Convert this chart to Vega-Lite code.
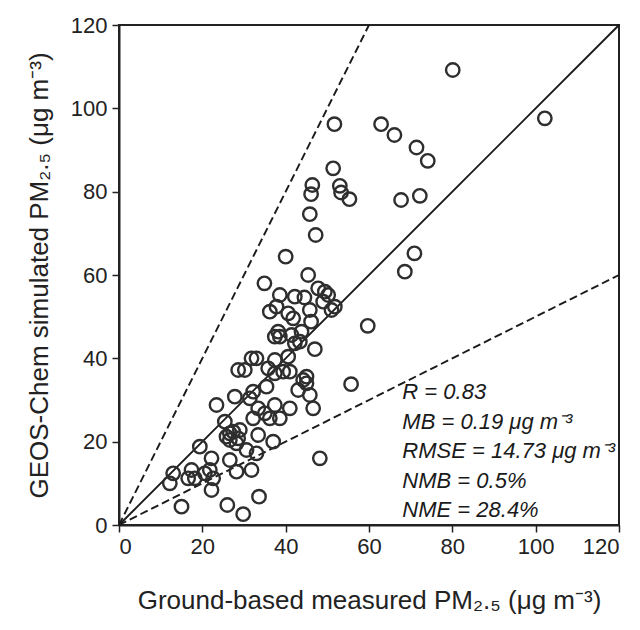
{
  "$schema": "https://vega.github.io/schema/vega-lite/v6.json",
  "width": 500,
  "height": 500,
  "autosize": {"type": "none"},
  "padding": {"left": 119, "top": 25, "right": 21, "bottom": 105},
  "background": "white",
  "config": {
    "view": {"stroke": "#222222", "strokeWidth": 2},
    "font": "Liberation Sans, sans-serif",
    "axis": {
      "grid": false,
      "domainColor": "#222222",
      "domainWidth": 2,
      "tickColor": "#222222",
      "tickWidth": 1.5,
      "tickSize": 7,
      "labelFont": "Liberation Sans, sans-serif",
      "labelFontSize": 22,
      "labelColor": "#222222",
      "titleFont": "Liberation Sans, sans-serif",
      "titleFontSize": 26,
      "titleFontWeight": "normal",
      "titleColor": "#222222"
    }
  },
  "layer": [
    {
      "data": {"values": [{}]},
      "mark": {"type": "rule", "color": "#1a1a1a", "strokeWidth": 1.9},
      "encoding": {
        "x": {"datum": 0, "type": "quantitative", "scale": {"domain": [0, 120]}},
        "y": {"datum": 0, "type": "quantitative", "scale": {"domain": [0, 120]}},
        "x2": {"datum": 120},
        "y2": {"datum": 120}
      }
    },
    {
      "data": {"values": [{}]},
      "mark": {"type": "rule", "color": "#1a1a1a", "strokeWidth": 1.9, "strokeDash": [8, 4]},
      "encoding": {
        "x": {"datum": 0, "type": "quantitative"},
        "y": {"datum": 0, "type": "quantitative"},
        "x2": {"datum": 60},
        "y2": {"datum": 120}
      }
    },
    {
      "data": {"values": [{}]},
      "mark": {"type": "rule", "color": "#1a1a1a", "strokeWidth": 1.9, "strokeDash": [8, 4]},
      "encoding": {
        "x": {"datum": 0, "type": "quantitative"},
        "y": {"datum": 0, "type": "quantitative"},
        "x2": {"datum": 120},
        "y2": {"datum": 60}
      }
    },
    {
      "data": {
        "values": [
          {"measured": 80.1, "simulated": 109.2},
          {"measured": 102.2, "simulated": 97.6},
          {"measured": 51.7, "simulated": 96.2},
          {"measured": 62.9, "simulated": 96.2},
          {"measured": 66.1, "simulated": 93.6},
          {"measured": 71.4, "simulated": 90.6},
          {"measured": 74.1, "simulated": 87.4},
          {"measured": 51.4, "simulated": 85.6},
          {"measured": 46.4, "simulated": 81.6},
          {"measured": 46.1, "simulated": 79.4},
          {"measured": 53.0, "simulated": 81.4},
          {"measured": 53.3, "simulated": 79.8},
          {"measured": 55.3, "simulated": 78.2},
          {"measured": 67.7, "simulated": 78.0},
          {"measured": 72.2, "simulated": 79.0},
          {"measured": 45.8, "simulated": 74.6},
          {"measured": 47.2, "simulated": 69.6},
          {"measured": 70.9, "simulated": 65.2},
          {"measured": 68.6, "simulated": 60.8},
          {"measured": 40.0, "simulated": 64.4},
          {"measured": 45.4, "simulated": 60.0},
          {"measured": 34.9, "simulated": 58.0},
          {"measured": 59.7, "simulated": 47.8},
          {"measured": 55.7, "simulated": 33.8},
          {"measured": 48.2, "simulated": 16.0},
          {"measured": 47.0, "simulated": 42.2},
          {"measured": 47.8, "simulated": 56.8},
          {"measured": 49.4, "simulated": 56.0},
          {"measured": 50.2, "simulated": 55.2},
          {"measured": 49.0, "simulated": 53.6},
          {"measured": 51.8, "simulated": 52.4},
          {"measured": 51.0, "simulated": 51.6},
          {"measured": 38.6, "simulated": 55.2},
          {"measured": 42.2, "simulated": 54.8},
          {"measured": 44.5, "simulated": 54.6},
          {"measured": 36.2, "simulated": 51.2},
          {"measured": 37.8, "simulated": 52.4},
          {"measured": 40.6, "simulated": 50.8},
          {"measured": 41.8, "simulated": 49.6},
          {"measured": 45.8, "simulated": 51.6},
          {"measured": 46.1, "simulated": 48.8},
          {"measured": 43.8, "simulated": 46.4},
          {"measured": 38.2, "simulated": 46.4},
          {"measured": 37.4, "simulated": 45.2},
          {"measured": 38.6, "simulated": 45.2},
          {"measured": 41.4, "simulated": 45.6},
          {"measured": 42.2, "simulated": 43.6},
          {"measured": 43.4, "simulated": 44.0},
          {"measured": 33.0, "simulated": 40.0},
          {"measured": 31.8, "simulated": 40.0},
          {"measured": 37.4, "simulated": 39.6},
          {"measured": 40.6, "simulated": 40.4},
          {"measured": 28.6, "simulated": 37.2},
          {"measured": 30.2, "simulated": 37.2},
          {"measured": 35.8, "simulated": 37.6},
          {"measured": 39.4, "simulated": 36.8},
          {"measured": 41.0, "simulated": 36.8},
          {"measured": 45.0, "simulated": 35.6},
          {"measured": 37.4, "simulated": 36.4},
          {"measured": 44.2, "simulated": 34.8},
          {"measured": 45.0, "simulated": 34.0},
          {"measured": 43.0, "simulated": 32.4},
          {"measured": 45.8, "simulated": 31.2},
          {"measured": 46.6, "simulated": 28.0},
          {"measured": 41.0, "simulated": 28.0},
          {"measured": 37.4, "simulated": 28.8},
          {"measured": 32.2, "simulated": 32.0},
          {"measured": 31.4, "simulated": 30.4},
          {"measured": 27.8, "simulated": 30.8},
          {"measured": 23.4, "simulated": 28.8},
          {"measured": 33.4, "simulated": 28.0},
          {"measured": 35.0, "simulated": 26.8},
          {"measured": 36.2, "simulated": 25.6},
          {"measured": 38.6, "simulated": 25.6},
          {"measured": 32.2, "simulated": 25.6},
          {"measured": 25.4, "simulated": 24.8},
          {"measured": 27.4, "simulated": 22.4},
          {"measured": 29.0, "simulated": 22.8},
          {"measured": 33.4, "simulated": 21.6},
          {"measured": 26.6, "simulated": 20.4},
          {"measured": 28.6, "simulated": 20.8},
          {"measured": 37.0, "simulated": 20.0},
          {"measured": 35.4, "simulated": 33.2},
          {"measured": 19.4, "simulated": 18.8},
          {"measured": 22.2, "simulated": 16.0},
          {"measured": 26.6, "simulated": 15.6},
          {"measured": 28.2, "simulated": 12.8},
          {"measured": 31.8, "simulated": 13.2},
          {"measured": 33.0, "simulated": 17.2},
          {"measured": 13.0, "simulated": 12.4},
          {"measured": 12.2, "simulated": 10.0},
          {"measured": 17.4, "simulated": 13.2},
          {"measured": 16.6, "simulated": 11.2},
          {"measured": 18.2, "simulated": 11.2},
          {"measured": 21.8, "simulated": 13.2},
          {"measured": 22.6, "simulated": 11.2},
          {"measured": 22.2, "simulated": 8.4},
          {"measured": 15.0, "simulated": 4.4},
          {"measured": 26.0, "simulated": 4.8},
          {"measured": 29.8, "simulated": 2.6},
          {"measured": 33.6, "simulated": 6.8},
          {"measured": 25.8, "simulated": 21.2},
          {"measured": 28.2, "simulated": 19.6},
          {"measured": 30.6, "simulated": 18.0},
          {"measured": 20.6, "simulated": 12.4},
          {"measured": 26.6, "simulated": 22.0}
        ]
      },
      "mark": {"type": "point", "shape": "circle", "filled": false, "size": 180, "stroke": "#2e2e2e", "strokeWidth": 2.4, "opacity": 1},
      "encoding": {
        "x": {
          "field": "measured", "type": "quantitative",
          "scale": {"domain": [0, 120], "nice": false},
          "axis": {"values": [0, 20, 40, 60, 80, 100, 120], "labelPadding": 4, "titlePadding": 30, "title": "Ground-based measured PM₂.₅ (μg m⁻³)"}
        },
        "y": {
          "field": "simulated", "type": "quantitative",
          "scale": {"domain": [0, 120], "nice": false},
          "axis": {"values": [0, 20, 40, 60, 80, 100, 120], "labelPadding": 5, "titlePadding": 18, "title": "GEOS-Chem simulated PM₂.₅ (μg m⁻³)"}
        }
      }
    },
    {
      "data": {"values": [{}]},
      "mark": {
        "type": "text",
        "text": ["R = 0.83", "MB = 0.19 μg m⁻³", "RMSE = 14.73 μg m⁻³", "NMB = 0.5%", "NME = 28.4%"],
        "align": "left",
        "baseline": "alphabetic",
        "lineHeight": 29.5,
        "fontSize": 22,
        "fontStyle": "italic",
        "fontWeight": "normal",
        "fill": "#1a1a1a"
      },
      "encoding": {
        "x": {"datum": 68, "type": "quantitative"},
        "y": {"datum": 30.2, "type": "quantitative"}
      }
    }
  ]
}
